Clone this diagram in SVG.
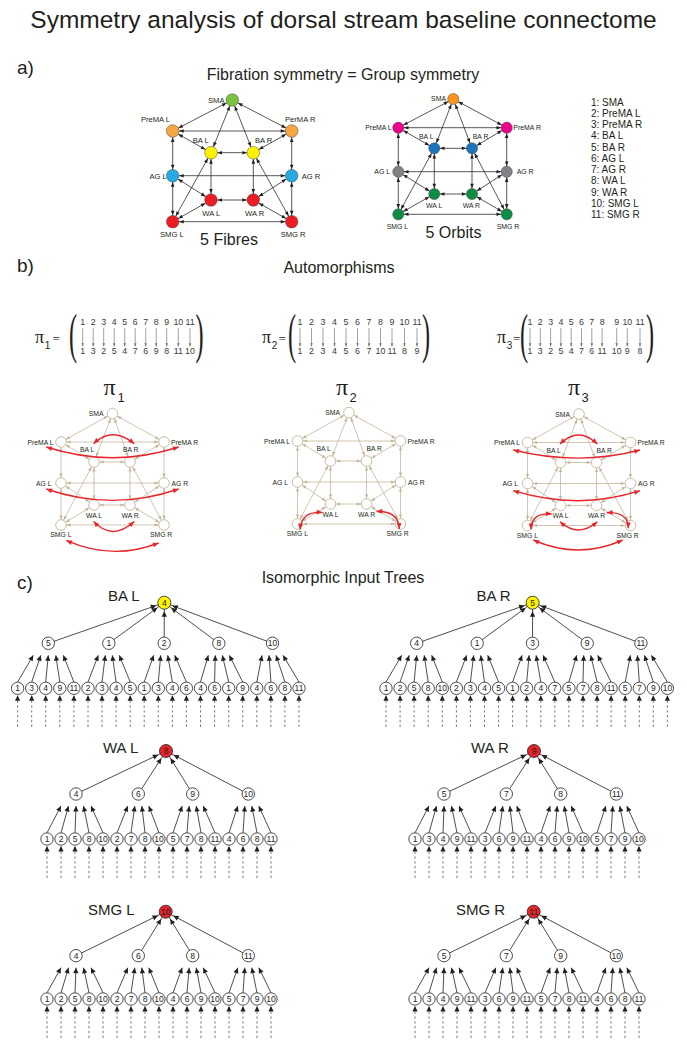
<svg xmlns="http://www.w3.org/2000/svg" width="687" height="1050" viewBox="0 0 687 1050">
<style>
text{font-family:"Liberation Sans",Arial,sans-serif;fill:#231f20}
.ttl{font-size:24.5px}
.hd{font-size:16px}
.sec{font-size:19px}
.lg{font-size:10px}
.la{font-size:7.6px}
.lb{font-size:6.9px}
.lp{font-size:6.8px}
.end{text-anchor:end}
.mid{text-anchor:middle}
.serif{font-family:"Liberation Serif","Times New Roman",serif}
.ek line{stroke:#231f20;stroke-width:.75;marker-start:url(#mA);marker-end:url(#mA)}
.ek2 line{stroke:#231f20;stroke-width:.75;marker-start:url(#mB);marker-end:url(#mB)}
.nd circle{stroke:#4d4d4d;stroke-width:.5}
.et line{stroke:#c4b69b;stroke-width:.8;marker-start:url(#mTan);marker-end:url(#mTan)}
.pn circle{fill:#fff;stroke:#c4b69b;stroke-width:.9}
.rd path{fill:none;stroke:#e7252b;stroke-width:1.4;marker-start:url(#mRed);marker-end:url(#mRed)}
.mx text{font-size:8.8px;text-anchor:middle;fill:#3a3a3a}
.mx line{stroke:#77787b;stroke-width:.7;marker-end:url(#mGr)}
.tr line{stroke:#231f20;stroke-width:.8;marker-end:url(#mT)}
.tr .up line{marker-end:url(#mRt)}
.tr .dl line{stroke:#58595b;stroke-dasharray:2.4 2.4}
.tn circle{fill:#fff;stroke:#231f20;stroke-width:.8}
.tn text{font-size:8.5px;text-anchor:middle}
.ry circle{fill:#fff200}
.rr circle{fill:#e3242b}
</style>
<defs>
<marker id="mA" markerUnits="userSpaceOnUse" markerWidth="12" markerHeight="4" refX="11" refY="1.8" orient="auto-start-reverse" overflow="visible"><path d="M0,0L4.6,1.8L0,3.6z" fill="#231f20"/></marker>
<marker id="mB" markerUnits="userSpaceOnUse" markerWidth="12" markerHeight="4" refX="10.2" refY="1.8" orient="auto-start-reverse" overflow="visible"><path d="M0,0L4.6,1.8L0,3.6z" fill="#231f20"/></marker>
<marker id="mTan" markerUnits="userSpaceOnUse" markerWidth="10" markerHeight="4" refX="9.6" refY="1.6" orient="auto-start-reverse" overflow="visible"><path d="M0,0L4.2,1.6L0,3.2z" fill="#c4b69b"/></marker>
<marker id="mRed" markerUnits="userSpaceOnUse" markerWidth="6" markerHeight="5" refX="5.8" refY="2.4" orient="auto-start-reverse" overflow="visible"><path d="M0,0L5.8,2.4L0,4.8z" fill="#e7252b"/></marker>
<marker id="mGr" markerUnits="userSpaceOnUse" markerWidth="4" markerHeight="3" refX="3.2" refY="1.3" orient="auto" overflow="visible"><path d="M0,0L3.2,1.3L0,2.6z" fill="#77787b"/></marker>
<marker id="mT" markerUnits="userSpaceOnUse" markerWidth="6" markerHeight="6" refX="5.5" refY="2.6" orient="auto" overflow="visible"><path d="M0,0L5.5,2.6L0,5.2z" fill="#231f20"/></marker>
<marker id="mRt" markerUnits="userSpaceOnUse" markerWidth="15" markerHeight="6" refX="14" refY="2.6" orient="auto" overflow="visible"><path d="M0,0L5.5,2.6L0,5.2z" fill="#231f20"/></marker>
<!-- shared connector layout of the automorphism graphs (origin at PreMA L) -->
<g id="tanEdges" class="et">
<line x1="51.5" y1="-28.5" x2="0" y2="0"/>
<line x1="51.5" y1="-28.5" x2="103" y2="0"/>
<line x1="51.5" y1="-28.5" x2="33" y2="20"/>
<line x1="51.5" y1="-28.5" x2="69" y2="20"/>
<line x1="0" y1="0" x2="103" y2="0"/>
<line x1="0" y1="0" x2="33" y2="20"/>
<line x1="103" y1="0" x2="69" y2="20"/>
<line x1="0" y1="0" x2="0" y2="41"/>
<line x1="103" y1="0" x2="103" y2="41"/>
<line x1="33" y1="20" x2="69" y2="20"/>
<line x1="33" y1="20" x2="33" y2="63"/>
<line x1="69" y1="20" x2="69" y2="63"/>
<line x1="0" y1="41" x2="103" y2="41"/>
<line x1="0" y1="41" x2="33" y2="63"/>
<line x1="103" y1="41" x2="69" y2="63"/>
<line x1="0" y1="41" x2="0" y2="83"/>
<line x1="103" y1="41" x2="103" y2="83"/>
<line x1="33" y1="63" x2="69" y2="63"/>
<line x1="33" y1="63" x2="0" y2="83"/>
<line x1="69" y1="63" x2="103" y2="83"/>
<line x1="0" y1="83" x2="103" y2="83"/>
<line x1="33" y1="20" x2="0" y2="83"/>
<line x1="69" y1="20" x2="103" y2="83"/>
</g>
</defs>

<rect width="687" height="1050" fill="#fff"/>

<text class="ttl mid" x="343.5" y="28">Symmetry analysis of dorsal stream baseline connectome</text>

<!-- ============ a) ============ -->
<text class="sec" x="17" y="74">a)</text>
<text class="hd mid" x="343" y="80">Fibration symmetry = Group symmetry</text>

<g id="fibre-edges" class="ek">
<line x1="232.3" y1="100" x2="172.7" y2="131"/>
<line x1="232.3" y1="100" x2="291.7" y2="131"/>
<line x1="232.3" y1="100" x2="211" y2="152.7"/>
<line x1="232.3" y1="100" x2="253.3" y2="152.7"/>
<line x1="172.7" y1="131" x2="291.7" y2="131"/>
<line x1="172.7" y1="131" x2="211" y2="152.7"/>
<line x1="291.7" y1="131" x2="253.3" y2="152.7"/>
<line x1="172.7" y1="131" x2="172.7" y2="175.7"/>
<line x1="291.7" y1="131" x2="291.7" y2="175.7"/>
<line x1="211" y1="152.7" x2="253.3" y2="152.7"/>
<line x1="211" y1="152.7" x2="211" y2="200"/>
<line x1="253.3" y1="152.7" x2="253.3" y2="200"/>
<line x1="172.7" y1="175.7" x2="291.7" y2="175.7"/>
<line x1="172.7" y1="175.7" x2="211" y2="200"/>
<line x1="291.7" y1="175.7" x2="253.3" y2="200"/>
<line x1="172.7" y1="175.7" x2="172.7" y2="221.7"/>
<line x1="291.7" y1="175.7" x2="291.7" y2="221.7"/>
<line x1="211" y1="200" x2="253.3" y2="200"/>
<line x1="211" y1="200" x2="172.7" y2="221.7"/>
<line x1="253.3" y1="200" x2="291.7" y2="221.7"/>
<line x1="172.7" y1="221.7" x2="291.7" y2="221.7"/>
<line x1="211" y1="152.7" x2="172.7" y2="221.7"/>
<line x1="253.3" y1="152.7" x2="291.7" y2="221.7"/>
</g>
<g id="fibre-nodes" class="nd">
<g id="f-sma"><circle cx="232.3" cy="100" r="6.3" fill="#7cc142"/><text class="la end" x="224.5" y="102.5">SMA</text></g>
<g id="f-premal"><circle cx="172.7" cy="131" r="6.3" fill="#f7a541"/><text class="la end" x="170" y="121.5">PreMA L</text></g>
<g id="f-premar"><circle cx="291.7" cy="131" r="6.3" fill="#f7a541"/><text class="la" x="285" y="121.5">PerMA R</text></g>
<g id="f-bal"><circle cx="211" cy="152.7" r="6.3" fill="#fff200"/><text class="la" x="192.7" y="142.5">BA L</text></g>
<g id="f-bar"><circle cx="253.3" cy="152.7" r="6.3" fill="#fff200"/><text class="la" x="255" y="142.5">BA R</text></g>
<g id="f-agl"><circle cx="172.7" cy="175.7" r="6.3" fill="#27aae1"/><text class="la end" x="166.7" y="178.5">AG L</text></g>
<g id="f-agr"><circle cx="291.7" cy="175.7" r="6.3" fill="#27aae1"/><text class="la" x="301.7" y="178.5">AG R</text></g>
<g id="f-wal"><circle cx="211" cy="200" r="6.3" fill="#ed1c24"/><text class="la" x="202.3" y="215.7">WA L</text></g>
<g id="f-war"><circle cx="253.3" cy="200" r="6.3" fill="#ed1c24"/><text class="la" x="245" y="215.7">WA R</text></g>
<g id="f-smgl"><circle cx="172.7" cy="221.7" r="6.3" fill="#ed1c24"/><text class="la" x="160" y="236.7">SMG L</text></g>
<g id="f-smgr"><circle cx="291.7" cy="221.7" r="6.3" fill="#ed1c24"/><text class="la" x="280.7" y="236.7">SMG R</text></g>
</g>
<text class="hd mid" x="229" y="245">5 Fibres</text>

<g id="orbit-edges" class="ek2">
<line x1="453.3" y1="99" x2="398.3" y2="127.7"/>
<line x1="453.3" y1="99" x2="506.7" y2="127.7"/>
<line x1="453.3" y1="99" x2="434.3" y2="148.3"/>
<line x1="453.3" y1="99" x2="472" y2="148.3"/>
<line x1="398.3" y1="127.7" x2="506.7" y2="127.7"/>
<line x1="398.3" y1="127.7" x2="434.3" y2="148.3"/>
<line x1="506.7" y1="127.7" x2="472" y2="148.3"/>
<line x1="398.3" y1="127.7" x2="398.3" y2="171.7"/>
<line x1="506.7" y1="127.7" x2="506.7" y2="171.7"/>
<line x1="434.3" y1="148.3" x2="472" y2="148.3"/>
<line x1="434.3" y1="148.3" x2="434.3" y2="194"/>
<line x1="472" y1="148.3" x2="472" y2="194"/>
<line x1="398.3" y1="171.7" x2="506.7" y2="171.7"/>
<line x1="398.3" y1="171.7" x2="434.3" y2="194"/>
<line x1="506.7" y1="171.7" x2="472" y2="194"/>
<line x1="398.3" y1="171.7" x2="398.3" y2="214.3"/>
<line x1="506.7" y1="171.7" x2="506.7" y2="214.3"/>
<line x1="434.3" y1="194" x2="472" y2="194"/>
<line x1="434.3" y1="194" x2="398.3" y2="214.3"/>
<line x1="472" y1="194" x2="506.7" y2="214.3"/>
<line x1="398.3" y1="214.3" x2="506.7" y2="214.3"/>
<line x1="434.3" y1="148.3" x2="398.3" y2="214.3"/>
<line x1="472" y1="148.3" x2="506.7" y2="214.3"/>
</g>
<g id="orbit-nodes" class="nd">
<g id="o-sma"><circle cx="453.3" cy="99" r="5.6" fill="#f7941d"/><text class="lb end" x="446" y="100.8">SMA</text></g>
<g id="o-premal"><circle cx="398.3" cy="127.7" r="5.6" fill="#ec008c"/><text class="lb end" x="391.7" y="129.8">PreMA L</text></g>
<g id="o-premar"><circle cx="506.7" cy="127.7" r="5.6" fill="#ec008c"/><text class="lb" x="513.3" y="129.8">PreMA R</text></g>
<g id="o-bal"><circle cx="434.3" cy="148.3" r="5.6" fill="#1c75bc"/><text class="lb" x="419" y="139">BA L</text></g>
<g id="o-bar"><circle cx="472" cy="148.3" r="5.6" fill="#1c75bc"/><text class="lb" x="472.7" y="139">BA R</text></g>
<g id="o-agl"><circle cx="398.3" cy="171.7" r="5.6" fill="#808285"/><text class="lb end" x="390" y="174.3">AG L</text></g>
<g id="o-agr"><circle cx="506.7" cy="171.7" r="5.6" fill="#808285"/><text class="lb" x="516.7" y="174.3">AG R</text></g>
<g id="o-wal"><circle cx="434.3" cy="194" r="5.6" fill="#0d8c44"/><text class="lb" x="426" y="208.3">WA L</text></g>
<g id="o-war"><circle cx="472" cy="194" r="5.6" fill="#0d8c44"/><text class="lb" x="462.7" y="208.3">WA R</text></g>
<g id="o-smgl"><circle cx="398.3" cy="214.3" r="5.6" fill="#0d8c44"/><text class="lb" x="386.7" y="229">SMG L</text></g>
<g id="o-smgr"><circle cx="506.7" cy="214.3" r="5.6" fill="#0d8c44"/><text class="lb" x="496.7" y="229">SMG R</text></g>
</g>
<text class="hd mid" x="453.5" y="238">5 Orbits</text>

<g id="legend" class="lg">
<text x="591" y="105.5">1: SMA</text>
<text x="591" y="116.8">2: PreMA L</text>
<text x="591" y="128">3: PreMA R</text>
<text x="591" y="139.3">4: BA L</text>
<text x="591" y="150.5">5: BA R</text>
<text x="591" y="161.8">6: AG L</text>
<text x="591" y="173">7: AG R</text>
<text x="591" y="184.3">8: WA L</text>
<text x="591" y="195.5">9: WA R</text>
<text x="591" y="206.8">10: SMG L</text>
<text x="591" y="218">11: SMG R</text>
</g>

<!-- ============ b) ============ -->
<text class="sec" x="17" y="272">b)</text>
<text class="hd mid" x="339" y="273">Automorphisms</text>

<!-- permutation pi1 -->
<g id="perm1" class="mx">
<text class="serif" x="35" y="343" style="font-size:18px;text-anchor:start;fill:#231f20">π</text>
<text x="47.5" y="348.5" style="font-size:10px;fill:#231f20">1</text>
<text class="serif" x="52.5" y="342.5" style="font-size:13px;text-anchor:start;fill:#231f20">=</text>
<text class="serif" transform="translate(69,351.5) scale(0.45,1)" style="font-size:54px;text-anchor:start;fill:#231f20">(</text>
<text class="serif" transform="translate(195.5,351.5) scale(0.45,1)" style="font-size:54px;text-anchor:start;fill:#231f20">)</text>
<text x="82.7" y="324.5">1</text><text x="93.2" y="324.5">2</text><text x="103.7" y="324.5">3</text><text x="114.2" y="324.5">4</text><text x="124.7" y="324.5">5</text><text x="135.2" y="324.5">6</text><text x="145.7" y="324.5">7</text><text x="156.2" y="324.5">8</text><text x="166.7" y="324.5">9</text><text x="178.3" y="324.5">10</text><text x="190" y="324.5">11</text>
<line x1="82.7" y1="328" x2="82.7" y2="346.5"/><line x1="93.2" y1="328" x2="93.2" y2="346.5"/><line x1="103.7" y1="328" x2="103.7" y2="346.5"/><line x1="114.2" y1="328" x2="114.2" y2="346.5"/><line x1="124.7" y1="328" x2="124.7" y2="346.5"/><line x1="135.2" y1="328" x2="135.2" y2="346.5"/><line x1="145.7" y1="328" x2="145.7" y2="346.5"/><line x1="156.2" y1="328" x2="156.2" y2="346.5"/><line x1="166.7" y1="328" x2="166.7" y2="346.5"/><line x1="178.3" y1="328" x2="178.3" y2="346.5"/><line x1="190" y1="328" x2="190" y2="346.5"/>
<text x="82.7" y="354">1</text><text x="93.2" y="354">3</text><text x="103.7" y="354">2</text><text x="114.2" y="354">5</text><text x="124.7" y="354">4</text><text x="135.2" y="354">7</text><text x="145.7" y="354">6</text><text x="156.2" y="354">9</text><text x="166.7" y="354">8</text><text x="178.3" y="354">11</text><text x="190" y="354">10</text>
</g>

<!-- permutation pi2 -->
<g id="perm2" class="mx">
<text class="serif" x="262" y="343" style="font-size:18px;text-anchor:start;fill:#231f20">π</text>
<text x="274.5" y="348.5" style="font-size:10px;fill:#231f20">2</text>
<text class="serif" x="278.5" y="342.5" style="font-size:13px;text-anchor:start;fill:#231f20">=</text>
<text class="serif" transform="translate(288,351.5) scale(0.45,1)" style="font-size:54px;text-anchor:start;fill:#231f20">(</text>
<text class="serif" transform="translate(422,351.5) scale(0.45,1)" style="font-size:54px;text-anchor:start;fill:#231f20">)</text>
<text x="300" y="324.5">1</text><text x="311.5" y="324.5">2</text><text x="323" y="324.5">3</text><text x="334.5" y="324.5">4</text><text x="346" y="324.5">5</text><text x="357.5" y="324.5">6</text><text x="369" y="324.5">7</text><text x="380.5" y="324.5">8</text><text x="392" y="324.5">9</text><text x="404.5" y="324.5">10</text><text x="417" y="324.5">11</text>
<line x1="300" y1="328" x2="300" y2="346.5"/><line x1="311.5" y1="328" x2="311.5" y2="346.5"/><line x1="323" y1="328" x2="323" y2="346.5"/><line x1="334.5" y1="328" x2="334.5" y2="346.5"/><line x1="346" y1="328" x2="346" y2="346.5"/><line x1="357.5" y1="328" x2="357.5" y2="346.5"/><line x1="369" y1="328" x2="369" y2="346.5"/><line x1="380.5" y1="328" x2="380.5" y2="346.5"/><line x1="392" y1="328" x2="392" y2="346.5"/><line x1="404.5" y1="328" x2="404.5" y2="346.5"/><line x1="417" y1="328" x2="417" y2="346.5"/>
<text x="300" y="354">1</text><text x="311.5" y="354">2</text><text x="323" y="354">3</text><text x="334.5" y="354">4</text><text x="346" y="354">5</text><text x="357.5" y="354">6</text><text x="369" y="354">7</text><text x="380.5" y="354">10</text><text x="392" y="354">11</text><text x="404.5" y="354">8</text><text x="417" y="354">9</text>
</g>

<!-- permutation pi3 -->
<g id="perm3" class="mx">
<text class="serif" x="497" y="343" style="font-size:18px;text-anchor:start;fill:#231f20">π</text>
<text x="509.5" y="348.5" style="font-size:10px;fill:#231f20">3</text>
<text class="serif" x="513" y="342.5" style="font-size:13px;text-anchor:start;fill:#231f20">=</text>
<text class="serif" transform="translate(520,351.5) scale(0.45,1)" style="font-size:54px;text-anchor:start;fill:#231f20">(</text>
<text class="serif" transform="translate(646,351.5) scale(0.45,1)" style="font-size:54px;text-anchor:start;fill:#231f20">)</text>
<text x="530" y="324.5">1</text><text x="540.3" y="324.5">2</text><text x="550.6" y="324.5">3</text><text x="560.9" y="324.5">4</text><text x="571.2" y="324.5">5</text><text x="581.5" y="324.5">6</text><text x="591.8" y="324.5">7</text><text x="602.1" y="324.5">8</text><text x="616.7" y="324.5">9</text><text x="627.3" y="324.5">10</text><text x="640" y="324.5">11</text>
<line x1="530" y1="328" x2="530" y2="346.5"/><line x1="540.3" y1="328" x2="540.3" y2="346.5"/><line x1="550.6" y1="328" x2="550.6" y2="346.5"/><line x1="560.9" y1="328" x2="560.9" y2="346.5"/><line x1="571.2" y1="328" x2="571.2" y2="346.5"/><line x1="581.5" y1="328" x2="581.5" y2="346.5"/><line x1="591.8" y1="328" x2="591.8" y2="346.5"/><line x1="602.1" y1="328" x2="602.1" y2="346.5"/><line x1="616.7" y1="328" x2="616.7" y2="346.5"/><line x1="627.3" y1="328" x2="627.3" y2="346.5"/><line x1="640" y1="328" x2="640" y2="346.5"/>
<text x="530" y="354">1</text><text x="540.3" y="354">3</text><text x="550.6" y="354">2</text><text x="560.9" y="354">5</text><text x="571.2" y="354">4</text><text x="581.5" y="354">7</text><text x="591.8" y="354">6</text><text x="602.1" y="354">11</text><text x="616.7" y="354">10</text><text x="627.3" y="354">9</text><text x="640" y="354">8</text>
</g>

<!-- automorphism graph pi1 -->
<text class="serif" x="103.5" y="395" style="font-size:24px">π</text>
<text x="117.5" y="402" style="font-size:13px">1</text>
<g id="auto1" transform="translate(61,442)">
<use href="#tanEdges"/>
<g class="pn">
<g id="a1-sma"><circle cx="51.5" cy="-28.5" r="5.3"/><text class="lp end" x="42.5" y="-26">SMA</text></g>
<g id="a1-premal"><circle cx="0" cy="0" r="5.3"/><text class="lp end" x="-7.5" y="2.5">PreMA L</text></g>
<g id="a1-premar"><circle cx="103" cy="0" r="5.3"/><text class="lp" x="110" y="2.5">PreMA R</text></g>
<g id="a1-bal"><circle cx="33" cy="20" r="5.3"/><text class="lp" x="19" y="10">BA L</text></g>
<g id="a1-bar"><circle cx="69" cy="20" r="5.3"/><text class="lp" x="62" y="10">BA R</text></g>
<g id="a1-agl"><circle cx="0" cy="41" r="5.3"/><text class="lp end" x="-9.5" y="43.5">AG L</text></g>
<g id="a1-agr"><circle cx="103" cy="41" r="5.3"/><text class="lp" x="110.5" y="43.5">AG R</text></g>
<g id="a1-wal"><circle cx="33" cy="63" r="5.3"/><text class="lp" x="25" y="75.8">WA L</text></g>
<g id="a1-war"><circle cx="69" cy="63" r="5.3"/><text class="lp" x="60.5" y="75.8">WA R</text></g>
<g id="a1-smgl"><circle cx="0" cy="83" r="5.3"/><text class="lp" x="-10.7" y="95">SMG L</text></g>
<g id="a1-smgr"><circle cx="103" cy="83" r="5.3"/><text class="lp" x="89" y="95">SMG R</text></g>
</g>
<g class="rd">
<path d="M32.6,1.7Q51,-16.3 73.3,1.7"/>
<path d="M-14.7,5Q51.5,26.4 117.7,5"/>
<path d="M-14.7,47Q51.5,69.8 117.7,47"/>
<path d="M32.6,79.4Q51,99.4 73.3,79.4"/>
<path d="M5.3,98.4Q51.5,119 97.6,101"/>
</g>
</g>

<!-- automorphism graph pi2 -->
<text class="serif" x="336" y="395" style="font-size:24px">π</text>
<text x="349.5" y="402" style="font-size:13px">2</text>
<g id="auto2" transform="translate(297.5,441)">
<use href="#tanEdges"/>
<g class="pn">
<g id="a2-sma"><circle cx="51.5" cy="-28.5" r="5.3"/><text class="lp end" x="42.5" y="-26">SMA</text></g>
<g id="a2-premal"><circle cx="0" cy="0" r="5.3"/><text class="lp end" x="-7.5" y="2.5">PreMA L</text></g>
<g id="a2-premar"><circle cx="103" cy="0" r="5.3"/><text class="lp" x="110" y="2.5">PreMA R</text></g>
<g id="a2-bal"><circle cx="33" cy="20" r="5.3"/><text class="lp" x="19" y="10">BA L</text></g>
<g id="a2-bar"><circle cx="69" cy="20" r="5.3"/><text class="lp" x="69" y="10">BA R</text></g>
<g id="a2-agl"><circle cx="0" cy="41" r="5.3"/><text class="lp end" x="-9.5" y="43.5">AG L</text></g>
<g id="a2-agr"><circle cx="103" cy="41" r="5.3"/><text class="lp" x="110.5" y="43.5">AG R</text></g>
<g id="a2-wal"><circle cx="33" cy="63" r="5.3"/><text class="lp" x="25" y="75.8">WA L</text></g>
<g id="a2-war"><circle cx="69" cy="63" r="5.3"/><text class="lp" x="60.5" y="75.8">WA R</text></g>
<g id="a2-smgl"><circle cx="0" cy="83" r="5.3"/><text class="lp" x="-10.7" y="95">SMG L</text></g>
<g id="a2-smgr"><circle cx="103" cy="83" r="5.3"/><text class="lp" x="89" y="95">SMG R</text></g>
</g>
<g class="rd">
<path d="M25,71.5Q3.5,70 2.6,88.5"/>
<path d="M79,70.5Q101,69.5 101.8,88"/>
</g>
</g>

<!-- automorphism graph pi3 -->
<text class="serif" x="568" y="395" style="font-size:24px">π</text>
<text x="581.5" y="402" style="font-size:13px">3</text>
<g id="auto3" transform="translate(527.5,442.5)">
<use href="#tanEdges"/>
<g class="pn">
<g id="a3-sma"><circle cx="51.5" cy="-28.5" r="5.3"/><text class="lp end" x="42.5" y="-26">SMA</text></g>
<g id="a3-premal"><circle cx="0" cy="0" r="5.3"/><text class="lp end" x="-7.5" y="2.5">PreMA L</text></g>
<g id="a3-premar"><circle cx="103" cy="0" r="5.3"/><text class="lp" x="110" y="2.5">PreMA R</text></g>
<g id="a3-bal"><circle cx="33" cy="20" r="5.3"/><text class="lp" x="19" y="10">BA L</text></g>
<g id="a3-bar"><circle cx="69" cy="20" r="5.3"/><text class="lp" x="69" y="10">BA R</text></g>
<g id="a3-agl"><circle cx="0" cy="41" r="5.3"/><text class="lp end" x="-9.5" y="43.5">AG L</text></g>
<g id="a3-agr"><circle cx="103" cy="41" r="5.3"/><text class="lp" x="110.5" y="43.5">AG R</text></g>
<g id="a3-wal"><circle cx="33" cy="63" r="5.3"/><text class="lp" x="25" y="75.8">WA L</text></g>
<g id="a3-war"><circle cx="69" cy="63" r="5.3"/><text class="lp" x="60.5" y="75.8">WA R</text></g>
<g id="a3-smgl"><circle cx="0" cy="83" r="5.3"/><text class="lp" x="-10.7" y="95">SMG L</text></g>
<g id="a3-smgr"><circle cx="103" cy="83" r="5.3"/><text class="lp" x="89" y="95">SMG R</text></g>
</g>
<g class="rd">
<path d="M32.5,1.5Q51,-16.5 69.8,1.5"/>
<path d="M-14.2,7.5Q51,23.7 112.5,7.5"/>
<path d="M-14.2,48.2Q51,68.2 112.5,48.2"/>
<path d="M32.5,79.2Q51,95.6 69.8,79.2"/>
<path d="M24.2,71.5Q3.5,70 3.5,86.8"/>
<path d="M79.2,70.2Q100.8,69 100.8,85.8"/>
<path d="M5.8,97.5Q51,117.5 95.2,97.5"/>
</g>
</g>

<!-- ============ c) ============ -->
<text class="sec" x="17" y="589">c)</text>
<text class="hd mid" x="343" y="583">Isomorphic Input Trees</text>

<!-- input tree of BA L -->
<g id="tree-bal" class="tr">
<text class="hd" x="108" y="601" style="font-size:15px">BA L</text>
<g class="up">
<line x1="48.3" y1="643.3" x2="164.3" y2="602.7"/><line x1="108.8" y1="643.3" x2="164.3" y2="602.7"/><line x1="164.2" y1="643.3" x2="164.3" y2="602.7"/><line x1="218.8" y1="643.3" x2="164.3" y2="602.7"/><line x1="272.5" y1="643.3" x2="164.3" y2="602.7"/>
</g>
<line x1="17.6" y1="682" x2="33.3" y2="655.3"/><line x1="31.7" y1="682" x2="40.8" y2="655.3"/><line x1="45.7" y1="682" x2="48.3" y2="655.3"/><line x1="59.8" y1="682" x2="55.8" y2="655.3"/><line x1="73.9" y1="682" x2="63.3" y2="655.3"/>
<line x1="88" y1="682" x2="98.3" y2="655.3"/><line x1="102" y1="682" x2="105.3" y2="655.3"/><line x1="116.1" y1="682" x2="112.3" y2="655.3"/><line x1="130.2" y1="682" x2="119.3" y2="655.3"/>
<line x1="144.2" y1="682" x2="153.7" y2="655.3"/><line x1="158.3" y1="682" x2="160.7" y2="655.3"/><line x1="172.4" y1="682" x2="167.7" y2="655.3"/><line x1="186.4" y1="682" x2="174.7" y2="655.3"/>
<line x1="200.5" y1="682" x2="208.3" y2="655.3"/><line x1="214.6" y1="682" x2="215.3" y2="655.3"/><line x1="228.7" y1="682" x2="222.3" y2="655.3"/><line x1="242.7" y1="682" x2="229.3" y2="655.3"/>
<line x1="256.8" y1="682" x2="262" y2="655.3"/><line x1="270.9" y1="682" x2="269" y2="655.3"/><line x1="284.9" y1="682" x2="276" y2="655.3"/><line x1="299" y1="682" x2="283" y2="655.3"/>
<g class="dl">
<line x1="17.6" y1="727" x2="17.6" y2="695.3"/><line x1="31.7" y1="727" x2="31.7" y2="695.3"/><line x1="45.7" y1="727" x2="45.7" y2="695.3"/><line x1="59.8" y1="727" x2="59.8" y2="695.3"/><line x1="73.9" y1="727" x2="73.9" y2="695.3"/><line x1="88" y1="727" x2="88" y2="695.3"/><line x1="102" y1="727" x2="102" y2="695.3"/><line x1="116.1" y1="727" x2="116.1" y2="695.3"/><line x1="130.2" y1="727" x2="130.2" y2="695.3"/><line x1="144.2" y1="727" x2="144.2" y2="695.3"/><line x1="158.3" y1="727" x2="158.3" y2="695.3"/><line x1="172.4" y1="727" x2="172.4" y2="695.3"/><line x1="186.4" y1="727" x2="186.4" y2="695.3"/><line x1="200.5" y1="727" x2="200.5" y2="695.3"/><line x1="214.6" y1="727" x2="214.6" y2="695.3"/><line x1="228.7" y1="727" x2="228.7" y2="695.3"/><line x1="242.7" y1="727" x2="242.7" y2="695.3"/><line x1="256.8" y1="727" x2="256.8" y2="695.3"/><line x1="270.9" y1="727" x2="270.9" y2="695.3"/><line x1="284.9" y1="727" x2="284.9" y2="695.3"/><line x1="299" y1="727" x2="299" y2="695.3"/>
</g>
<g id="bal-root" class="tn ry" transform="translate(164.3,602.7)"><circle r="6.5"/><text y="3">4</text></g>
<g id="bal-c1" class="tn" transform="translate(48.3,643.3)"><circle r="6.2"/><text y="3">5</text></g>
<g id="bal-c2" class="tn" transform="translate(108.8,643.3)"><circle r="6.2"/><text y="3">1</text></g>
<g id="bal-c3" class="tn" transform="translate(164.2,643.3)"><circle r="6.2"/><text y="3">2</text></g>
<g id="bal-c4" class="tn" transform="translate(218.8,643.3)"><circle r="6.2"/><text y="3">8</text></g>
<g id="bal-c5" class="tn" transform="translate(272.5,643.3)"><circle r="6.2"/><text y="3">10</text></g>
<g id="bal-l1" class="tn" transform="translate(17.6,688.3)"><circle r="6.2"/><text y="3">1</text></g>
<g id="bal-l2" class="tn" transform="translate(31.7,688.3)"><circle r="6.2"/><text y="3">3</text></g>
<g id="bal-l3" class="tn" transform="translate(45.7,688.3)"><circle r="6.2"/><text y="3">4</text></g>
<g id="bal-l4" class="tn" transform="translate(59.8,688.3)"><circle r="6.2"/><text y="3">9</text></g>
<g id="bal-l5" class="tn" transform="translate(73.9,688.3)"><circle r="6.2"/><text y="3">11</text></g>
<g id="bal-l6" class="tn" transform="translate(88,688.3)"><circle r="6.2"/><text y="3">2</text></g>
<g id="bal-l7" class="tn" transform="translate(102,688.3)"><circle r="6.2"/><text y="3">3</text></g>
<g id="bal-l8" class="tn" transform="translate(116.1,688.3)"><circle r="6.2"/><text y="3">4</text></g>
<g id="bal-l9" class="tn" transform="translate(130.2,688.3)"><circle r="6.2"/><text y="3">5</text></g>
<g id="bal-l10" class="tn" transform="translate(144.2,688.3)"><circle r="6.2"/><text y="3">1</text></g>
<g id="bal-l11" class="tn" transform="translate(158.3,688.3)"><circle r="6.2"/><text y="3">3</text></g>
<g id="bal-l12" class="tn" transform="translate(172.4,688.3)"><circle r="6.2"/><text y="3">4</text></g>
<g id="bal-l13" class="tn" transform="translate(186.4,688.3)"><circle r="6.2"/><text y="3">6</text></g>
<g id="bal-l14" class="tn" transform="translate(200.5,688.3)"><circle r="6.2"/><text y="3">4</text></g>
<g id="bal-l15" class="tn" transform="translate(214.6,688.3)"><circle r="6.2"/><text y="3">6</text></g>
<g id="bal-l16" class="tn" transform="translate(228.7,688.3)"><circle r="6.2"/><text y="3">1</text></g>
<g id="bal-l17" class="tn" transform="translate(242.7,688.3)"><circle r="6.2"/><text y="3">9</text></g>
<g id="bal-l18" class="tn" transform="translate(256.8,688.3)"><circle r="6.2"/><text y="3">4</text></g>
<g id="bal-l19" class="tn" transform="translate(270.9,688.3)"><circle r="6.2"/><text y="3">6</text></g>
<g id="bal-l20" class="tn" transform="translate(284.9,688.3)"><circle r="6.2"/><text y="3">8</text></g>
<g id="bal-l21" class="tn" transform="translate(299,688.3)"><circle r="6.2"/><text y="3">11</text></g>
</g>

<!-- input tree of BA R -->
<g id="tree-bar" class="tr">
<text class="hd" x="476.5" y="601" style="font-size:15px">BA R</text>
<g class="up">
<line x1="416.7" y1="643.3" x2="532.6" y2="602.7"/><line x1="477.2" y1="643.3" x2="532.6" y2="602.7"/><line x1="532.5" y1="643.3" x2="532.6" y2="602.7"/><line x1="587.2" y1="643.3" x2="532.6" y2="602.7"/><line x1="640.9" y1="643.3" x2="532.6" y2="602.7"/>
</g>
<line x1="386" y1="682" x2="401.7" y2="655.3"/><line x1="400.1" y1="682" x2="409.2" y2="655.3"/><line x1="414.1" y1="682" x2="416.7" y2="655.3"/><line x1="428.2" y1="682" x2="424.2" y2="655.3"/><line x1="442.3" y1="682" x2="431.7" y2="655.3"/>
<line x1="456.4" y1="682" x2="466.7" y2="655.3"/><line x1="470.4" y1="682" x2="473.7" y2="655.3"/><line x1="484.5" y1="682" x2="480.7" y2="655.3"/><line x1="498.6" y1="682" x2="487.7" y2="655.3"/>
<line x1="512.6" y1="682" x2="522.1" y2="655.3"/><line x1="526.7" y1="682" x2="529.1" y2="655.3"/><line x1="540.8" y1="682" x2="536.1" y2="655.3"/><line x1="554.8" y1="682" x2="543.1" y2="655.3"/>
<line x1="568.9" y1="682" x2="576.7" y2="655.3"/><line x1="583" y1="682" x2="583.7" y2="655.3"/><line x1="597.1" y1="682" x2="590.7" y2="655.3"/><line x1="611.1" y1="682" x2="597.7" y2="655.3"/>
<line x1="625.2" y1="682" x2="630.4" y2="655.3"/><line x1="639.3" y1="682" x2="637.4" y2="655.3"/><line x1="653.3" y1="682" x2="644.4" y2="655.3"/><line x1="667.4" y1="682" x2="651.4" y2="655.3"/>
<g class="dl">
<line x1="386" y1="727" x2="386" y2="695.3"/><line x1="400.1" y1="727" x2="400.1" y2="695.3"/><line x1="414.1" y1="727" x2="414.1" y2="695.3"/><line x1="428.2" y1="727" x2="428.2" y2="695.3"/><line x1="442.3" y1="727" x2="442.3" y2="695.3"/><line x1="456.4" y1="727" x2="456.4" y2="695.3"/><line x1="470.4" y1="727" x2="470.4" y2="695.3"/><line x1="484.5" y1="727" x2="484.5" y2="695.3"/><line x1="498.6" y1="727" x2="498.6" y2="695.3"/><line x1="512.6" y1="727" x2="512.6" y2="695.3"/><line x1="526.7" y1="727" x2="526.7" y2="695.3"/><line x1="540.8" y1="727" x2="540.8" y2="695.3"/><line x1="554.8" y1="727" x2="554.8" y2="695.3"/><line x1="568.9" y1="727" x2="568.9" y2="695.3"/><line x1="583" y1="727" x2="583" y2="695.3"/><line x1="597.1" y1="727" x2="597.1" y2="695.3"/><line x1="611.1" y1="727" x2="611.1" y2="695.3"/><line x1="625.2" y1="727" x2="625.2" y2="695.3"/><line x1="639.3" y1="727" x2="639.3" y2="695.3"/><line x1="653.3" y1="727" x2="653.3" y2="695.3"/><line x1="667.4" y1="727" x2="667.4" y2="695.3"/>
</g>
<g id="bar-root" class="tn ry" transform="translate(532.6,602.7)"><circle r="6.5"/><text y="3">5</text></g>
<g id="bar-c1" class="tn" transform="translate(416.7,643.3)"><circle r="6.2"/><text y="3">4</text></g>
<g id="bar-c2" class="tn" transform="translate(477.2,643.3)"><circle r="6.2"/><text y="3">1</text></g>
<g id="bar-c3" class="tn" transform="translate(532.5,643.3)"><circle r="6.2"/><text y="3">3</text></g>
<g id="bar-c4" class="tn" transform="translate(587.2,643.3)"><circle r="6.2"/><text y="3">9</text></g>
<g id="bar-c5" class="tn" transform="translate(640.9,643.3)"><circle r="6.2"/><text y="3">11</text></g>
<g id="bar-l1" class="tn" transform="translate(386,688.3)"><circle r="6.2"/><text y="3">1</text></g>
<g id="bar-l2" class="tn" transform="translate(400.1,688.3)"><circle r="6.2"/><text y="3">2</text></g>
<g id="bar-l3" class="tn" transform="translate(414.1,688.3)"><circle r="6.2"/><text y="3">5</text></g>
<g id="bar-l4" class="tn" transform="translate(428.2,688.3)"><circle r="6.2"/><text y="3">8</text></g>
<g id="bar-l5" class="tn" transform="translate(442.3,688.3)"><circle r="6.2"/><text y="3">10</text></g>
<g id="bar-l6" class="tn" transform="translate(456.4,688.3)"><circle r="6.2"/><text y="3">2</text></g>
<g id="bar-l7" class="tn" transform="translate(470.4,688.3)"><circle r="6.2"/><text y="3">3</text></g>
<g id="bar-l8" class="tn" transform="translate(484.5,688.3)"><circle r="6.2"/><text y="3">4</text></g>
<g id="bar-l9" class="tn" transform="translate(498.6,688.3)"><circle r="6.2"/><text y="3">5</text></g>
<g id="bar-l10" class="tn" transform="translate(512.6,688.3)"><circle r="6.2"/><text y="3">1</text></g>
<g id="bar-l11" class="tn" transform="translate(526.7,688.3)"><circle r="6.2"/><text y="3">2</text></g>
<g id="bar-l12" class="tn" transform="translate(540.8,688.3)"><circle r="6.2"/><text y="3">4</text></g>
<g id="bar-l13" class="tn" transform="translate(554.8,688.3)"><circle r="6.2"/><text y="3">7</text></g>
<g id="bar-l14" class="tn" transform="translate(568.9,688.3)"><circle r="6.2"/><text y="3">5</text></g>
<g id="bar-l15" class="tn" transform="translate(583,688.3)"><circle r="6.2"/><text y="3">7</text></g>
<g id="bar-l16" class="tn" transform="translate(597.1,688.3)"><circle r="6.2"/><text y="3">8</text></g>
<g id="bar-l17" class="tn" transform="translate(611.1,688.3)"><circle r="6.2"/><text y="3">11</text></g>
<g id="bar-l18" class="tn" transform="translate(625.2,688.3)"><circle r="6.2"/><text y="3">5</text></g>
<g id="bar-l19" class="tn" transform="translate(639.3,688.3)"><circle r="6.2"/><text y="3">7</text></g>
<g id="bar-l20" class="tn" transform="translate(653.3,688.3)"><circle r="6.2"/><text y="3">9</text></g>
<g id="bar-l21" class="tn" transform="translate(667.4,688.3)"><circle r="6.2"/><text y="3">10</text></g>
</g>

<!-- input tree of WA L -->
<g id="tree-wal" class="tr">
<text class="hd" x="103" y="752.5" style="font-size:15px">WA L</text>
<g class="up">
<line x1="76" y1="794" x2="166" y2="751"/><line x1="138.3" y1="794" x2="166" y2="751"/><line x1="192.7" y1="794" x2="166" y2="751"/><line x1="248.3" y1="794" x2="166" y2="751"/>
</g>
<line x1="47" y1="832.8" x2="61" y2="806"/><line x1="61" y1="832.8" x2="68.5" y2="806"/><line x1="75" y1="832.8" x2="76" y2="806"/><line x1="89" y1="832.8" x2="83.5" y2="806"/><line x1="103" y1="832.8" x2="91" y2="806"/>
<line x1="117" y1="832.8" x2="127.8" y2="806"/><line x1="131" y1="832.8" x2="134.8" y2="806"/><line x1="145" y1="832.8" x2="141.8" y2="806"/><line x1="159" y1="832.8" x2="148.8" y2="806"/>
<line x1="173" y1="832.8" x2="182.2" y2="806"/><line x1="187" y1="832.8" x2="189.2" y2="806"/><line x1="201" y1="832.8" x2="196.2" y2="806"/><line x1="215" y1="832.8" x2="203.2" y2="806"/>
<line x1="229" y1="832.8" x2="237.8" y2="806"/><line x1="243" y1="832.8" x2="244.8" y2="806"/><line x1="257" y1="832.8" x2="251.8" y2="806"/><line x1="271" y1="832.8" x2="258.8" y2="806"/>
<g class="dl">
<line x1="47" y1="878" x2="47" y2="846"/><line x1="61" y1="878" x2="61" y2="846"/><line x1="75" y1="878" x2="75" y2="846"/><line x1="89" y1="878" x2="89" y2="846"/><line x1="103" y1="878" x2="103" y2="846"/><line x1="117" y1="878" x2="117" y2="846"/><line x1="131" y1="878" x2="131" y2="846"/><line x1="145" y1="878" x2="145" y2="846"/><line x1="159" y1="878" x2="159" y2="846"/><line x1="173" y1="878" x2="173" y2="846"/><line x1="187" y1="878" x2="187" y2="846"/><line x1="201" y1="878" x2="201" y2="846"/><line x1="215" y1="878" x2="215" y2="846"/><line x1="229" y1="878" x2="229" y2="846"/><line x1="243" y1="878" x2="243" y2="846"/><line x1="257" y1="878" x2="257" y2="846"/><line x1="271" y1="878" x2="271" y2="846"/>
</g>
<g id="wal-root" class="tn rr" transform="translate(166,751)"><circle r="6.5"/><text y="3">8</text></g>
<g id="wal-c1" class="tn" transform="translate(76,794)"><circle r="6.2"/><text y="3">4</text></g>
<g id="wal-c2" class="tn" transform="translate(138.3,794)"><circle r="6.2"/><text y="3">6</text></g>
<g id="wal-c3" class="tn" transform="translate(192.7,794)"><circle r="6.2"/><text y="3">9</text></g>
<g id="wal-c4" class="tn" transform="translate(248.3,794)"><circle r="6.2"/><text y="3">10</text></g>
<g id="wal-l1" class="tn" transform="translate(47,839)"><circle r="6.2"/><text y="3">1</text></g>
<g id="wal-l2" class="tn" transform="translate(61,839)"><circle r="6.2"/><text y="3">2</text></g>
<g id="wal-l3" class="tn" transform="translate(75,839)"><circle r="6.2"/><text y="3">5</text></g>
<g id="wal-l4" class="tn" transform="translate(89,839)"><circle r="6.2"/><text y="3">8</text></g>
<g id="wal-l5" class="tn" transform="translate(103,839)"><circle r="6.2"/><text y="3">10</text></g>
<g id="wal-l6" class="tn" transform="translate(117,839)"><circle r="6.2"/><text y="3">2</text></g>
<g id="wal-l7" class="tn" transform="translate(131,839)"><circle r="6.2"/><text y="3">7</text></g>
<g id="wal-l8" class="tn" transform="translate(145,839)"><circle r="6.2"/><text y="3">8</text></g>
<g id="wal-l9" class="tn" transform="translate(159,839)"><circle r="6.2"/><text y="3">10</text></g>
<g id="wal-l10" class="tn" transform="translate(173,839)"><circle r="6.2"/><text y="3">5</text></g>
<g id="wal-l11" class="tn" transform="translate(187,839)"><circle r="6.2"/><text y="3">7</text></g>
<g id="wal-l12" class="tn" transform="translate(201,839)"><circle r="6.2"/><text y="3">8</text></g>
<g id="wal-l13" class="tn" transform="translate(215,839)"><circle r="6.2"/><text y="3">11</text></g>
<g id="wal-l14" class="tn" transform="translate(229,839)"><circle r="6.2"/><text y="3">4</text></g>
<g id="wal-l15" class="tn" transform="translate(243,839)"><circle r="6.2"/><text y="3">6</text></g>
<g id="wal-l16" class="tn" transform="translate(257,839)"><circle r="6.2"/><text y="3">8</text></g>
<g id="wal-l17" class="tn" transform="translate(271,839)"><circle r="6.2"/><text y="3">11</text></g>
</g>

<!-- input tree of WA R -->
<g id="tree-war" class="tr">
<text class="hd" x="471" y="752.5" style="font-size:15px">WA R</text>
<g class="up">
<line x1="444" y1="794" x2="534" y2="751"/><line x1="506.3" y1="794" x2="534" y2="751"/><line x1="560.7" y1="794" x2="534" y2="751"/><line x1="616.3" y1="794" x2="534" y2="751"/>
</g>
<line x1="415" y1="832.8" x2="429" y2="806"/><line x1="429" y1="832.8" x2="436.5" y2="806"/><line x1="443" y1="832.8" x2="444" y2="806"/><line x1="457" y1="832.8" x2="451.5" y2="806"/><line x1="471" y1="832.8" x2="459" y2="806"/>
<line x1="485" y1="832.8" x2="495.8" y2="806"/><line x1="499" y1="832.8" x2="502.8" y2="806"/><line x1="513" y1="832.8" x2="509.8" y2="806"/><line x1="527" y1="832.8" x2="516.8" y2="806"/>
<line x1="541" y1="832.8" x2="550.2" y2="806"/><line x1="555" y1="832.8" x2="557.2" y2="806"/><line x1="569" y1="832.8" x2="564.2" y2="806"/><line x1="583" y1="832.8" x2="571.2" y2="806"/>
<line x1="597" y1="832.8" x2="605.8" y2="806"/><line x1="611" y1="832.8" x2="612.8" y2="806"/><line x1="625" y1="832.8" x2="619.8" y2="806"/><line x1="639" y1="832.8" x2="626.8" y2="806"/>
<g class="dl">
<line x1="415" y1="878" x2="415" y2="846"/><line x1="429" y1="878" x2="429" y2="846"/><line x1="443" y1="878" x2="443" y2="846"/><line x1="457" y1="878" x2="457" y2="846"/><line x1="471" y1="878" x2="471" y2="846"/><line x1="485" y1="878" x2="485" y2="846"/><line x1="499" y1="878" x2="499" y2="846"/><line x1="513" y1="878" x2="513" y2="846"/><line x1="527" y1="878" x2="527" y2="846"/><line x1="541" y1="878" x2="541" y2="846"/><line x1="555" y1="878" x2="555" y2="846"/><line x1="569" y1="878" x2="569" y2="846"/><line x1="583" y1="878" x2="583" y2="846"/><line x1="597" y1="878" x2="597" y2="846"/><line x1="611" y1="878" x2="611" y2="846"/><line x1="625" y1="878" x2="625" y2="846"/><line x1="639" y1="878" x2="639" y2="846"/>
</g>
<g id="war-root" class="tn rr" transform="translate(534,751)"><circle r="6.5"/><text y="3">9</text></g>
<g id="war-c1" class="tn" transform="translate(444,794)"><circle r="6.2"/><text y="3">5</text></g>
<g id="war-c2" class="tn" transform="translate(506.3,794)"><circle r="6.2"/><text y="3">7</text></g>
<g id="war-c3" class="tn" transform="translate(560.7,794)"><circle r="6.2"/><text y="3">8</text></g>
<g id="war-c4" class="tn" transform="translate(616.3,794)"><circle r="6.2"/><text y="3">11</text></g>
<g id="war-l1" class="tn" transform="translate(415,839)"><circle r="6.2"/><text y="3">1</text></g>
<g id="war-l2" class="tn" transform="translate(429,839)"><circle r="6.2"/><text y="3">3</text></g>
<g id="war-l3" class="tn" transform="translate(443,839)"><circle r="6.2"/><text y="3">4</text></g>
<g id="war-l4" class="tn" transform="translate(457,839)"><circle r="6.2"/><text y="3">9</text></g>
<g id="war-l5" class="tn" transform="translate(471,839)"><circle r="6.2"/><text y="3">11</text></g>
<g id="war-l6" class="tn" transform="translate(485,839)"><circle r="6.2"/><text y="3">3</text></g>
<g id="war-l7" class="tn" transform="translate(499,839)"><circle r="6.2"/><text y="3">6</text></g>
<g id="war-l8" class="tn" transform="translate(513,839)"><circle r="6.2"/><text y="3">9</text></g>
<g id="war-l9" class="tn" transform="translate(527,839)"><circle r="6.2"/><text y="3">11</text></g>
<g id="war-l10" class="tn" transform="translate(541,839)"><circle r="6.2"/><text y="3">4</text></g>
<g id="war-l11" class="tn" transform="translate(555,839)"><circle r="6.2"/><text y="3">6</text></g>
<g id="war-l12" class="tn" transform="translate(569,839)"><circle r="6.2"/><text y="3">9</text></g>
<g id="war-l13" class="tn" transform="translate(583,839)"><circle r="6.2"/><text y="3">10</text></g>
<g id="war-l14" class="tn" transform="translate(597,839)"><circle r="6.2"/><text y="3">5</text></g>
<g id="war-l15" class="tn" transform="translate(611,839)"><circle r="6.2"/><text y="3">7</text></g>
<g id="war-l16" class="tn" transform="translate(625,839)"><circle r="6.2"/><text y="3">9</text></g>
<g id="war-l17" class="tn" transform="translate(639,839)"><circle r="6.2"/><text y="3">10</text></g>
</g>

<!-- input tree of SMG L -->
<g id="tree-smgl" class="tr">
<text class="hd" x="88" y="915" style="font-size:15px">SMG L</text>
<g class="up">
<line x1="76" y1="955.7" x2="165.7" y2="911.7"/><line x1="138.3" y1="955.7" x2="165.7" y2="911.7"/><line x1="192.7" y1="955.7" x2="165.7" y2="911.7"/><line x1="248.3" y1="955.7" x2="165.7" y2="911.7"/>
</g>
<line x1="47" y1="992.8" x2="61" y2="967.7"/><line x1="61" y1="992.8" x2="68.5" y2="967.7"/><line x1="75" y1="992.8" x2="76" y2="967.7"/><line x1="89" y1="992.8" x2="83.5" y2="967.7"/><line x1="103" y1="992.8" x2="91" y2="967.7"/>
<line x1="117" y1="992.8" x2="127.8" y2="967.7"/><line x1="131" y1="992.8" x2="134.8" y2="967.7"/><line x1="145" y1="992.8" x2="141.8" y2="967.7"/><line x1="159" y1="992.8" x2="148.8" y2="967.7"/>
<line x1="173" y1="992.8" x2="182.2" y2="967.7"/><line x1="187" y1="992.8" x2="189.2" y2="967.7"/><line x1="201" y1="992.8" x2="196.2" y2="967.7"/><line x1="215" y1="992.8" x2="203.2" y2="967.7"/>
<line x1="229" y1="992.8" x2="237.8" y2="967.7"/><line x1="243" y1="992.8" x2="244.8" y2="967.7"/><line x1="257" y1="992.8" x2="251.8" y2="967.7"/><line x1="271" y1="992.8" x2="258.8" y2="967.7"/>
<g class="dl">
<line x1="47" y1="1038" x2="47" y2="1006"/><line x1="61" y1="1038" x2="61" y2="1006"/><line x1="75" y1="1038" x2="75" y2="1006"/><line x1="89" y1="1038" x2="89" y2="1006"/><line x1="103" y1="1038" x2="103" y2="1006"/><line x1="117" y1="1038" x2="117" y2="1006"/><line x1="131" y1="1038" x2="131" y2="1006"/><line x1="145" y1="1038" x2="145" y2="1006"/><line x1="159" y1="1038" x2="159" y2="1006"/><line x1="173" y1="1038" x2="173" y2="1006"/><line x1="187" y1="1038" x2="187" y2="1006"/><line x1="201" y1="1038" x2="201" y2="1006"/><line x1="215" y1="1038" x2="215" y2="1006"/><line x1="229" y1="1038" x2="229" y2="1006"/><line x1="243" y1="1038" x2="243" y2="1006"/><line x1="257" y1="1038" x2="257" y2="1006"/><line x1="271" y1="1038" x2="271" y2="1006"/>
</g>
<g id="smgl-root" class="tn rr" transform="translate(165.7,911.7)"><circle r="6.5"/><text y="3">10</text></g>
<g id="smgl-c1" class="tn" transform="translate(76,955.7)"><circle r="6.2"/><text y="3">4</text></g>
<g id="smgl-c2" class="tn" transform="translate(138.3,955.7)"><circle r="6.2"/><text y="3">6</text></g>
<g id="smgl-c3" class="tn" transform="translate(192.7,955.7)"><circle r="6.2"/><text y="3">8</text></g>
<g id="smgl-c4" class="tn" transform="translate(248.3,955.7)"><circle r="6.2"/><text y="3">11</text></g>
<g id="smgl-l1" class="tn" transform="translate(47,999)"><circle r="6.2"/><text y="3">1</text></g>
<g id="smgl-l2" class="tn" transform="translate(61,999)"><circle r="6.2"/><text y="3">2</text></g>
<g id="smgl-l3" class="tn" transform="translate(75,999)"><circle r="6.2"/><text y="3">5</text></g>
<g id="smgl-l4" class="tn" transform="translate(89,999)"><circle r="6.2"/><text y="3">8</text></g>
<g id="smgl-l5" class="tn" transform="translate(103,999)"><circle r="6.2"/><text y="3">10</text></g>
<g id="smgl-l6" class="tn" transform="translate(117,999)"><circle r="6.2"/><text y="3">2</text></g>
<g id="smgl-l7" class="tn" transform="translate(131,999)"><circle r="6.2"/><text y="3">7</text></g>
<g id="smgl-l8" class="tn" transform="translate(145,999)"><circle r="6.2"/><text y="3">8</text></g>
<g id="smgl-l9" class="tn" transform="translate(159,999)"><circle r="6.2"/><text y="3">10</text></g>
<g id="smgl-l10" class="tn" transform="translate(173,999)"><circle r="6.2"/><text y="3">4</text></g>
<g id="smgl-l11" class="tn" transform="translate(187,999)"><circle r="6.2"/><text y="3">6</text></g>
<g id="smgl-l12" class="tn" transform="translate(201,999)"><circle r="6.2"/><text y="3">9</text></g>
<g id="smgl-l13" class="tn" transform="translate(215,999)"><circle r="6.2"/><text y="3">10</text></g>
<g id="smgl-l14" class="tn" transform="translate(229,999)"><circle r="6.2"/><text y="3">5</text></g>
<g id="smgl-l15" class="tn" transform="translate(243,999)"><circle r="6.2"/><text y="3">7</text></g>
<g id="smgl-l16" class="tn" transform="translate(257,999)"><circle r="6.2"/><text y="3">9</text></g>
<g id="smgl-l17" class="tn" transform="translate(271,999)"><circle r="6.2"/><text y="3">10</text></g>
</g>

<!-- input tree of SMG R -->
<g id="tree-smgr" class="tr">
<text class="hd" x="456" y="915" style="font-size:15px">SMG R</text>
<g class="up">
<line x1="444" y1="955.7" x2="533.7" y2="911.7"/><line x1="506.3" y1="955.7" x2="533.7" y2="911.7"/><line x1="560.7" y1="955.7" x2="533.7" y2="911.7"/><line x1="616.3" y1="955.7" x2="533.7" y2="911.7"/>
</g>
<line x1="415" y1="992.8" x2="429" y2="967.7"/><line x1="429" y1="992.8" x2="436.5" y2="967.7"/><line x1="443" y1="992.8" x2="444" y2="967.7"/><line x1="457" y1="992.8" x2="451.5" y2="967.7"/><line x1="471" y1="992.8" x2="459" y2="967.7"/>
<line x1="485" y1="992.8" x2="495.8" y2="967.7"/><line x1="499" y1="992.8" x2="502.8" y2="967.7"/><line x1="513" y1="992.8" x2="509.8" y2="967.7"/><line x1="527" y1="992.8" x2="516.8" y2="967.7"/>
<line x1="541" y1="992.8" x2="550.2" y2="967.7"/><line x1="555" y1="992.8" x2="557.2" y2="967.7"/><line x1="569" y1="992.8" x2="564.2" y2="967.7"/><line x1="583" y1="992.8" x2="571.2" y2="967.7"/>
<line x1="597" y1="992.8" x2="605.8" y2="967.7"/><line x1="611" y1="992.8" x2="612.8" y2="967.7"/><line x1="625" y1="992.8" x2="619.8" y2="967.7"/><line x1="639" y1="992.8" x2="626.8" y2="967.7"/>
<g class="dl">
<line x1="415" y1="1038" x2="415" y2="1006"/><line x1="429" y1="1038" x2="429" y2="1006"/><line x1="443" y1="1038" x2="443" y2="1006"/><line x1="457" y1="1038" x2="457" y2="1006"/><line x1="471" y1="1038" x2="471" y2="1006"/><line x1="485" y1="1038" x2="485" y2="1006"/><line x1="499" y1="1038" x2="499" y2="1006"/><line x1="513" y1="1038" x2="513" y2="1006"/><line x1="527" y1="1038" x2="527" y2="1006"/><line x1="541" y1="1038" x2="541" y2="1006"/><line x1="555" y1="1038" x2="555" y2="1006"/><line x1="569" y1="1038" x2="569" y2="1006"/><line x1="583" y1="1038" x2="583" y2="1006"/><line x1="597" y1="1038" x2="597" y2="1006"/><line x1="611" y1="1038" x2="611" y2="1006"/><line x1="625" y1="1038" x2="625" y2="1006"/><line x1="639" y1="1038" x2="639" y2="1006"/>
</g>
<g id="smgr-root" class="tn rr" transform="translate(533.7,911.7)"><circle r="6.5"/><text y="3">11</text></g>
<g id="smgr-c1" class="tn" transform="translate(444,955.7)"><circle r="6.2"/><text y="3">5</text></g>
<g id="smgr-c2" class="tn" transform="translate(506.3,955.7)"><circle r="6.2"/><text y="3">7</text></g>
<g id="smgr-c3" class="tn" transform="translate(560.7,955.7)"><circle r="6.2"/><text y="3">9</text></g>
<g id="smgr-c4" class="tn" transform="translate(616.3,955.7)"><circle r="6.2"/><text y="3">10</text></g>
<g id="smgr-l1" class="tn" transform="translate(415,999)"><circle r="6.2"/><text y="3">1</text></g>
<g id="smgr-l2" class="tn" transform="translate(429,999)"><circle r="6.2"/><text y="3">3</text></g>
<g id="smgr-l3" class="tn" transform="translate(443,999)"><circle r="6.2"/><text y="3">4</text></g>
<g id="smgr-l4" class="tn" transform="translate(457,999)"><circle r="6.2"/><text y="3">9</text></g>
<g id="smgr-l5" class="tn" transform="translate(471,999)"><circle r="6.2"/><text y="3">11</text></g>
<g id="smgr-l6" class="tn" transform="translate(485,999)"><circle r="6.2"/><text y="3">3</text></g>
<g id="smgr-l7" class="tn" transform="translate(499,999)"><circle r="6.2"/><text y="3">6</text></g>
<g id="smgr-l8" class="tn" transform="translate(513,999)"><circle r="6.2"/><text y="3">9</text></g>
<g id="smgr-l9" class="tn" transform="translate(527,999)"><circle r="6.2"/><text y="3">11</text></g>
<g id="smgr-l10" class="tn" transform="translate(541,999)"><circle r="6.2"/><text y="3">5</text></g>
<g id="smgr-l11" class="tn" transform="translate(555,999)"><circle r="6.2"/><text y="3">7</text></g>
<g id="smgr-l12" class="tn" transform="translate(569,999)"><circle r="6.2"/><text y="3">8</text></g>
<g id="smgr-l13" class="tn" transform="translate(583,999)"><circle r="6.2"/><text y="3">11</text></g>
<g id="smgr-l14" class="tn" transform="translate(597,999)"><circle r="6.2"/><text y="3">4</text></g>
<g id="smgr-l15" class="tn" transform="translate(611,999)"><circle r="6.2"/><text y="3">6</text></g>
<g id="smgr-l16" class="tn" transform="translate(625,999)"><circle r="6.2"/><text y="3">8</text></g>
<g id="smgr-l17" class="tn" transform="translate(639,999)"><circle r="6.2"/><text y="3">11</text></g>
</g>
</svg>
